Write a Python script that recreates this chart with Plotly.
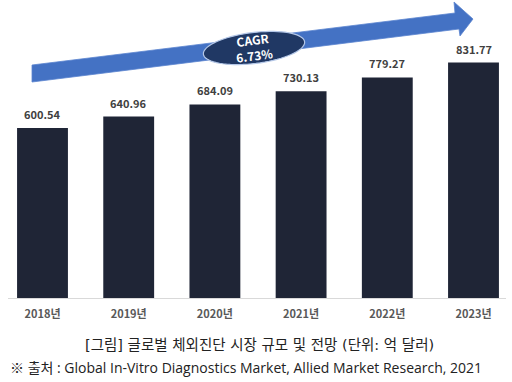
import math
import plotly.graph_objects as go

# ---- data ----
years = ["2018년", "2019년", "2020년", "2021년", "2022년", "2023년"]
market_size = [600.54, 640.96, 684.09, 730.13, 779.27, 831.77]
cagr_label = "CAGR<br>6.73%"
caption = "[그림] 글로벌 체외진단 시장 규모 및 전망 (단위: 억 달러)"
source = "※ 출처 : Global In-Vitro Diagnostics Market, Allied Market Research, 2021"

W, H = 512, 382
FONT = "Noto Sans CJK KR, sans-serif"
CAP_FONT = "DejaVu Sans, Noto Sans CJK KR, sans-serif"
SRC_FONT = "Open Sans, Noto Sans CJK KR, sans-serif"


def px(x, y):
    return x / W, 1 - y / H


def path_from(points):
    parts = []
    for i, (x, y) in enumerate(points):
        fx, fy = px(x, y)
        parts.append(("M" if i == 0 else "L") + f"{fx:.5f},{fy:.5f}")
    return " ".join(parts) + " Z"


fig = go.Figure()
fig.add_trace(go.Bar(
    x=list(range(len(years))),
    y=market_size,
    marker=dict(color="#1F2536", line=dict(width=0)),
    hoverinfo="skip",
))

# value labels
for i, v in enumerate(market_size):
    fig.add_annotation(
        x=i, y=v, xref="x", yref="y", text=f"<b>{v:.2f}</b>",
        showarrow=False, yanchor="bottom", yshift=4,
        font=dict(family=FONT, size=11, color="#404040"),
    )

# arrow decoration
arrow_pts = [(32, 65), (455, 13), (454, 2), (473, 19), (460, 36), (459, 29), (32, 82)]
fig.add_shape(type="path", xref="paper", yref="paper", path=path_from(arrow_pts),
              fillcolor="#4472C4", line=dict(color="#5B84CF", width=0.8), layer="above")

# tilted ellipse
cx, cy, a, b, t = 254, 48, 51, 15.5, math.radians(-7)
ell = []
for k in range(72):
    th = 2 * math.pi * k / 72
    ex, ey = a * math.cos(th), b * math.sin(th)
    ell.append((cx + ex * math.cos(t) - ey * math.sin(t), cy + ex * math.sin(t) + ey * math.cos(t)))
fig.add_shape(type="path", xref="paper", yref="paper", path=path_from(ell),
              fillcolor="#203864", line=dict(color="#B4C7E7", width=1.2), layer="above")

ax, ay = px(253, 47)
fig.add_annotation(x=ax, y=ay, xref="paper", yref="paper", text=f"<b>{cagr_label}</b>",
                   showarrow=False, textangle=-7, xanchor="center", yanchor="middle",
                   font=dict(family=FONT, size=12, color="white"))

# caption + source
c1x, c1y = px(259, 345)
fig.add_annotation(x=c1x, y=c1y, xref="paper", yref="paper", text=caption,
                   showarrow=False, xanchor="center", yanchor="middle",
                   font=dict(family=CAP_FONT, size=14.5, color="#222222"))
c2x, c2y = px(8, 367)
fig.add_annotation(x=c2x, y=c2y, xref="paper", yref="paper", text=source,
                   showarrow=False, xanchor="left", yanchor="middle",
                   font=dict(family=SRC_FONT, size=14, color="#222222"))

# axes geometry
x_dom = [8 / W, 506 / W]
step = 86.2
r0 = -(42.5 - 8) / step
r1 = r0 + 498 / step
base_y, top_y = 298, 20
scale = 0.283
ymax = (base_y - top_y) / scale

fig.update_layout(
    width=W, height=H,
    margin=dict(l=0, r=0, t=0, b=0),
    paper_bgcolor="white", plot_bgcolor="white",
    showlegend=False,
    bargap=0.41,
    xaxis=dict(
        domain=x_dom, range=[r0, r1],
        tickmode="array", tickvals=list(range(len(years))),
        ticktext=[f"<b>{y}</b>" for y in years],
        tickfont=dict(family=FONT, size=11, color="#595959"),
        showline=True, linecolor="#D9D9D9", linewidth=1,
        ticks="outside", ticklen=6, tickcolor="rgba(0,0,0,0)",
        showgrid=False, zeroline=False, fixedrange=True,
    ),
    yaxis=dict(
        domain=[1 - base_y / H, 1 - top_y / H], range=[0, ymax],
        visible=False, showgrid=False, zeroline=False, fixedrange=True,
    ),
)

fig.write_html("out.html", config={"displayModeBar": False},
               post_script="document.body.style.margin='0';document.body.style.padding='0';")
